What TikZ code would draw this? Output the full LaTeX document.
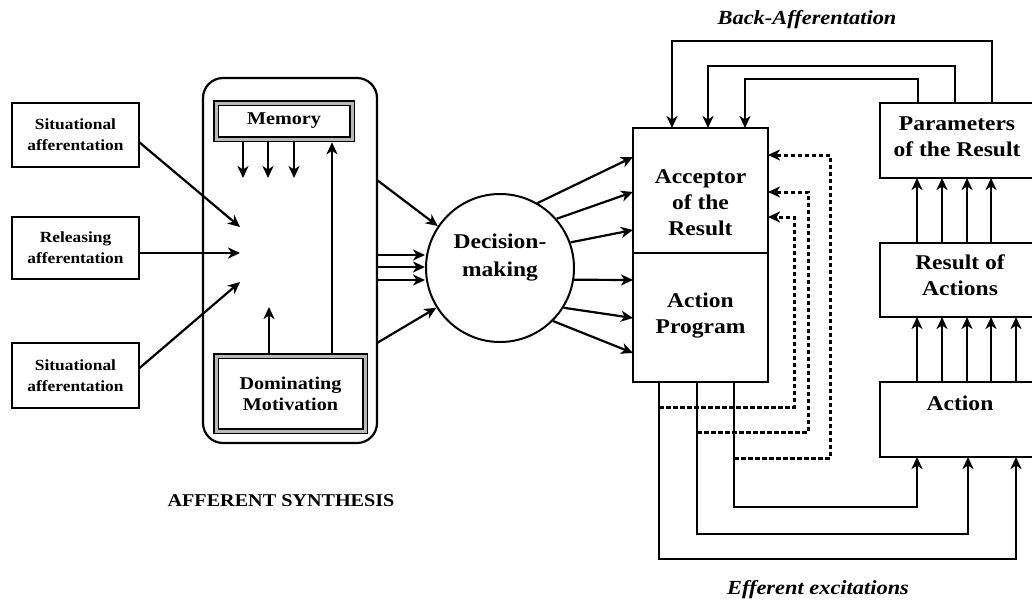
\documentclass[tikz,border=0pt]{standalone}
\usepackage{fontspec}
\setmainfont{Liberation Serif}[FakeStretch=1.12]
\usetikzlibrary{arrows.meta,calc}

\tikzset{
  arr/.style={line width=2.2pt, -{Stealth[length=12pt,width=11pt,inset=3.5pt]}},
  dotarr/.style={line width=3pt, dash pattern=on 4.5pt off 2.5pt, -{Stealth[length=12pt,width=11pt,inset=3.5pt]}},
  plainbox/.style={draw, line width=2.6pt, inner sep=0pt, outer sep=0pt, fill=white},
  framebox/.style={draw, line width=1.8pt, double=gray!55, double distance=3pt,
    inner sep=0pt, outer sep=3.3pt, fill=white, font=\bfseries\fontsize{18}{21}\selectfont, align=center},
  smalltxt/.style={font=\bfseries\fontsize{15.5}{21}\selectfont, align=center},
  maintxt/.style={font=\bfseries\fontsize{21}{26}\selectfont, align=center},
  itlabel/.style={font=\bfseries\itshape\fontsize{20}{24}\selectfont}
}

\begin{document}
\begin{tikzpicture}[x=1pt,y=-1pt]
\useasboundingbox (0,0) rectangle (1032,603);
\clip (0,0) rectangle (1032,603);

% --- afferent inputs ---
\node[plainbox, smalltxt, minimum width=127pt, minimum height=64pt] (sit1) at (75.5,135) {Situational\\afferentation};
\node[plainbox, smalltxt, minimum width=127pt, minimum height=62pt] (rel) at (75.5,248) {Releasing\\afferentation};
\node[plainbox, smalltxt, minimum width=127pt, minimum height=65pt] (sit2) at (75.5,375.5) {Situational\\afferentation};

% --- afferent synthesis block ---
\draw[line width=2.2pt, rounded corners=20pt] (203,78) rectangle (377,443);
\coordinate (synthE) at (377,260);
\node[framebox, minimum width=136pt, minimum height=36pt] (mem) at (284,121) {Memory};
\node[framebox, minimum width=149pt, minimum height=75pt] (dom) at (290.5,393.5) {Dominating\\Motivation};

\coordinate (in1) at (240,227);
\coordinate (in2) at (240,253);
\coordinate (in3) at (240,282);
\draw[arr] ($(sit1.east)+(0,7)$) -- (in1);
\draw[arr] (rel.east |- 0,253) -- (in2);
\draw[arr] ($(sit2.east)+(0,-7)$) -- (in3);

\foreach \x in {243,268,294}
  \draw[arr] (mem.south -| \x,0) -- (\x,178);
\coordinate (motup) at (269,307);
\draw[arr] (dom.north -| 269,0) -- (motup);
\draw[arr] (dom.north -| 332,0) -- (mem.south -| 332,0);

% --- decision making ---
\node[draw, circle, line width=2pt, minimum size=148pt, inner sep=0pt,
      maintxt, font=\bfseries\fontsize{21}{28}\selectfont] (dm) at (500,268) {Decision-\\making\\[-2pt]\mbox{}};
\draw[arr] (synthE |- 0,180) -- (dm.146);
\draw[arr] (synthE |- 0,343) -- (dm.212);
\foreach \y in {255,267,280}
  \draw[arr] (synthE |- 0,\y) -- (dm.west |- 0,\y);

% --- acceptor and action program ---
\node[plainbox, minimum width=135pt, minimum height=125pt] (acc) at (700.5,190.5) {};
\node[plainbox, minimum width=135pt, minimum height=129pt] (prog) at (700.5,317.5) {};
\node[maintxt] (acct) at (700.5,203) {Acceptor\\of the\\Result};
\node[maintxt] (progt) at (700.5,316) {Action\\Program};

\draw[arr] (dm.60) -- (acc.west |- 0,157);
\draw[arr] (dm.41) -- (acc.west |- 0,192);
\draw[arr] (dm.20) -- (acc.west |- 0,230);
\draw[arr] (dm.-9) -- (prog.west |- 0,280);
\draw[arr] (dm.-32) -- (prog.west |- 0,318);
\draw[arr] (dm.-45) -- (prog.west |- 0,353);

% --- result side ---
\node[plainbox, minimum width=160pt, minimum height=75pt] (par) at (960,140.5) {};
\node[plainbox, minimum width=160pt, minimum height=74pt] (res) at (960,280) {};
\node[plainbox, minimum width=160pt, minimum height=75pt] (act) at (960,419.5) {};
\node[maintxt] (part) at (957,136.5) {Parameters\\of the Result};
\node[maintxt] (rest) at (960,275.5) {Result of\\Actions};
\node[maintxt] (actt) at (960,403) {Action};

\foreach \x in {917,942,967,991}
  \draw[arr] (res.north -| \x,0) -- (par.south -| \x,0);
\foreach \x in {917,942,967,991,1016}
  \draw[arr] (act.north -| \x,0) -- (res.south -| \x,0);

% --- back-afferentation ---
\draw[arr] (par.north -| 992,0) -- (992,41) -- (672,41) -- (acc.north -| 672,0);
\draw[arr] (par.north -| 955,0) -- (955,66) -- (708,66) -- (acc.north -| 708,0);
\draw[arr] (par.north -| 918,0) -- (918,79) -- (745,79) -- (acc.north -| 745,0);
\node[itlabel] (backlbl) at (807,20) {Back-Afferentation};

% --- efferent excitations ---
\draw[arr] (prog.south -| 659,0) -- (659,559) -- (1016,559) -- (act.south -| 1016,0);
\draw[arr] (prog.south -| 697,0) -- (697,534) -- (968,534) -- (act.south -| 968,0);
\draw[arr] (prog.south -| 734,0) -- (734,507) -- (917,507) -- (act.south -| 917,0);
\node[itlabel] (efflbl) at (818,590) {Efferent excitations};

% --- collaterals to the acceptor ---
\coordinate (d1) at (659,407);
\coordinate (d2) at (697,432);
\coordinate (d3) at (734,458);
\draw[dotarr] (d1) -- (794,407) -- (794,217) -- (acc.east |- 0,217);
\draw[dotarr] (d2) -- (808,432) -- (808,192) -- (acc.east |- 0,192);
\draw[dotarr] (d3) -- (830,458) -- (830,155) -- (acc.east |- 0,155);

% --- caption ---
\node[font=\bfseries\fontsize{18}{21}\selectfont] (cap) at (281,501) {AFFERENT SYNTHESIS};
\end{tikzpicture}
\end{document}
